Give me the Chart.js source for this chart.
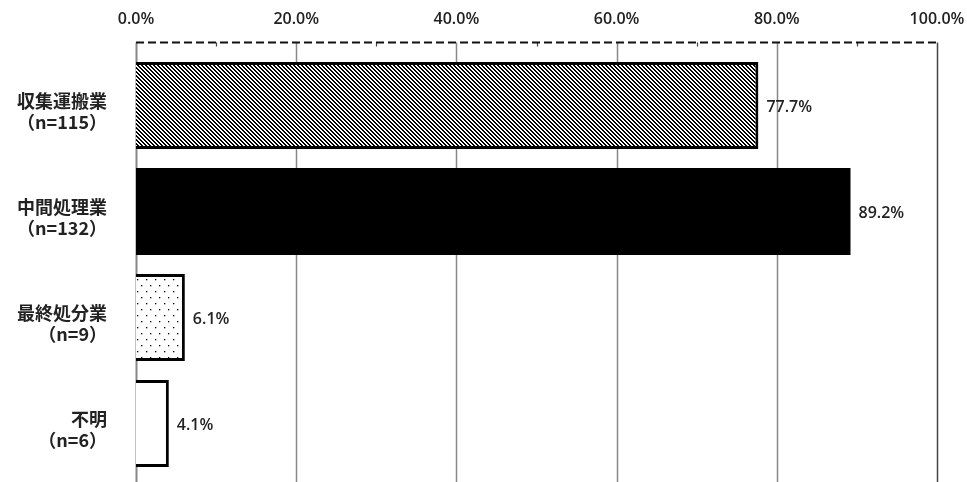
<!DOCTYPE html>
<html>
<head>
<meta charset="utf-8">
<script src="https://cdn.jsdelivr.net/npm/chart.js@4"></script>
<style>
html, body { margin: 0; padding: 0; background: #fff; }
#wrap { width: 967px; height: 482px; }
</style>
</head>
<body>
<div id="wrap"><canvas id="myChart"></canvas></div>
<script>
// categories (two lines each) and their share values in %
const categoryNames = ['収集運搬業', '中間処理業', '最終処分業', '不明'];
const categoryCounts = ['（n=115）', '（n=132）', '（n=9）', '（n=6）'];
const shareValues = [77.7, 89.2, 6.1, 4.1];
const tickValues = [0, 20, 40, 60, 80, 100];

// fill patterns like the printed original
function hatchPattern() {
  const c = document.createElement('canvas');
  c.width = 4; c.height = 4;
  const g = c.getContext('2d');
  g.fillStyle = '#fff';
  g.fillRect(0, 0, 4, 4);
  g.fillStyle = '#000';
  for (let i = 0; i < 4; i++) {
    g.fillRect(i, i, 1, 1);
    g.fillRect((i + 1) % 4, i, 1, 1);
  }
  return g.createPattern(c, 'repeat');
}

function dotPattern() {
  const c = document.createElement('canvas');
  c.width = 9; c.height = 12;
  const g = c.getContext('2d');
  g.fillStyle = '#fff';
  g.fillRect(0, 0, 9, 12);
  g.fillStyle = '#000';
  g.fillRect(2, 3, 1.3, 1.3);
  g.fillRect(6, 9, 1.3, 1.3);
  return g.createPattern(c, 'repeat');
}

const labels = categoryNames.map((n, i) => [n, categoryCounts[i]]);

// gridlines reach from the dashed top line down to the bottom edge
const gridPlugin = {
  id: 'gridPlugin',
  beforeDatasetsDraw(chart) {
    const ctx = chart.ctx;
    const x = chart.scales.x;
    const top = chart.chartArea.top - 10;
    const bottom = chart.height;
    ctx.save();
    tickValues.forEach(v => {
      const px = Math.round(x.getPixelForValue(v)) + 0.5;
      ctx.beginPath();
      ctx.strokeStyle = v === 100 ? '#444' : '#888';
      ctx.lineWidth = v === 0 ? 2 : 1.5;
      ctx.moveTo(px, top);
      ctx.lineTo(px, bottom);
      ctx.stroke();
    });
    // minor marks at the odd tens
    for (let v = 10; v < 100; v += 20) {
      const px = Math.round(x.getPixelForValue(v)) + 0.5;
      ctx.beginPath();
      ctx.strokeStyle = '#444';
      ctx.lineWidth = 1.2;
      ctx.moveTo(px, top);
      ctx.lineTo(px, top + 4);
      ctx.stroke();
    }
    ctx.beginPath();
    ctx.setLineDash([8, 4]);
    ctx.strokeStyle = '#111';
    ctx.lineWidth = 2;
    ctx.moveTo(x.getPixelForValue(0), top);
    ctx.lineTo(x.getPixelForValue(100), top);
    ctx.stroke();
    ctx.restore();
  }
};

const valueLabels = {
  id: 'valueLabels',
  afterDatasetsDraw(chart) {
    const ctx = chart.ctx;
    const meta = chart.getDatasetMeta(0);
    ctx.save();
    ctx.font = '600 16px "Open Sans"';
    ctx.fillStyle = '#222';
    ctx.textAlign = 'left';
    ctx.textBaseline = 'middle';
    meta.data.forEach((bar, i) => {
      ctx.fillText(shareValues[i].toFixed(1) + '%', bar.x + 8, bar.y + 2);
    });
    ctx.restore();
  }
};

const data = {
  labels: labels,
  datasets: [{
    data: shareValues,
    backgroundColor: [hatchPattern(), '#000', dotPattern(), '#fff'],
    borderColor: '#000',
    borderWidth: [3, 0, 3, 3],
    borderSkipped: 'start',
    categoryPercentage: 0.82,
    barPercentage: 1
  }]
};

const config = {
  type: 'bar',
  data: data,
  options: {
    indexAxis: 'y',
    responsive: true,
    maintainAspectRatio: false,
    animation: false,
    layout: { padding: { left: 0, right: 30, top: 0, bottom: 5.5 } },
    plugins: { legend: { display: false }, tooltip: { enabled: false } },
    scales: {
      x: {
        position: 'top',
        min: 0,
        max: 100,
        grid: { display: false },
        border: { display: false },
        afterFit: s => {
          s.height = 52.5;
          s.paddingLeft = 0;
          s.paddingRight = 0;
        },
        ticks: {
          stepSize: 20,
          padding: 15,
          color: '#222',
          font: { family: 'Open Sans', size: 16, weight: '600' },
          callback: v => v.toFixed(1) + '%'
        }
      },
      y: {
        grid: { display: false },
        border: { display: false },
        afterFit: s => {
          s.width = 136;
          s.paddingTop = 0;
          s.paddingBottom = 0;
        },
        ticks: {
          padding: 21,
          labelOffset: 6,
          color: '#222',
          font: { family: 'Noto Sans CJK JP', size: 18, weight: 'bold', lineHeight: 1.17 }
        }
      }
    }
  },
  plugins: [gridPlugin, valueLabels]
};

new Chart(document.getElementById('myChart'), config);
</script>
</body>
</html>
